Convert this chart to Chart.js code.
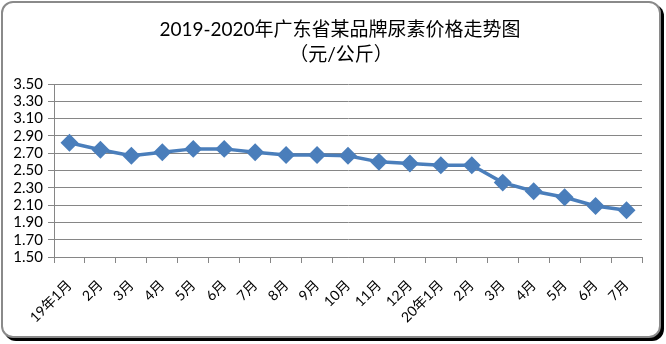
<!DOCTYPE html>
<html>
<head>
<meta charset="utf-8">
<script src="https://cdn.jsdelivr.net/npm/chart.js@4"></script>
<style>
  html, body { margin: 0; padding: 0; background: #fff; }
  body { width: 666px; height: 344px; position: relative; overflow: hidden; }
  .frame {
    position: absolute; left: 1px; top: 1px; width: 656px; height: 333px;
    border: 2px solid #8a8a8a; border-radius: 12px;
    box-shadow: 3px 3px 0 0 #000;
    background: #fff;
  }
  canvas { position: absolute; left: 0; top: 0; }
</style>
</head>
<body>
<div class="frame"></div>
<canvas id="priceChart" width="666" height="344"></canvas>
<script>
// 月份标签与尿素价格（元/公斤）
const months = ['19年1月', '2月', '3月', '4月', '5月', '6月', '7月', '8月', '9月', '10月',
  '11月', '12月', '20年1月', '2月', '3月', '4月', '5月', '6月', '7月'];
const prices = [2.82, 2.74, 2.67, 2.71, 2.75, 2.75, 2.71, 2.68, 2.68, 2.67,
  2.60, 2.58, 2.56, 2.56, 2.36, 2.26, 2.19, 2.09, 2.04];
const titleLines = ['2019-2020年广东省某品牌尿素价格走势图', '（元/公斤）'];
const yMin = 1.5;
const yMax = 3.5;
const yStep = 0.2;

const fontFamily = 'Lato, "Noto Sans CJK SC", sans-serif';
const gray = '#868686';
const blue = '#4a7ebb';

// the title sits a little right of the canvas centre, so draw it by hand
const titleDraw = {
  id: 'titleDraw',
  afterDraw(chart) {
    const ctx = chart.ctx;
    ctx.save();
    ctx.fillStyle = '#000';
    ctx.font = '19px ' + fontFamily;
    ctx.textAlign = 'center';
    ctx.textBaseline = 'middle';
    ctx.fillText(titleLines[0], 340, 30);
    ctx.fillText(titleLines[1], 341, 55);
    ctx.restore();
  }
};

new Chart(document.getElementById('priceChart'), {
  type: 'line',
  data: {
    labels: months,
    datasets: [{
      data: prices,
      borderColor: blue,
      backgroundColor: blue,
      borderWidth: 3.5,
      pointStyle: 'rectRot',
      pointRadius: 6.5,
      pointHoverRadius: 6.5,
      tension: 0
    }]
  },
  plugins: [titleDraw],
  options: {
    responsive: false,
    animation: false,
    layout: { padding: { left: 0, right: 24, top: 84, bottom: 0 } },
    plugins: {
      legend: { display: false },
      tooltip: { enabled: false },
      title: { display: false }
    },
    scales: {
      x: {
        offset: true,
        grid: { display: true, drawOnChartArea: false, drawTicks: true, tickLength: 6, color: gray, offset: true },
        border: { display: true, color: gray, width: 1 },
        ticks: {
          color: '#000',
          font: { family: fontFamily, size: 14 },
          minRotation: 45, maxRotation: 45,
          padding: 14,
          autoSkip: false
        },
        afterFit: (scale) => { scale.height = 87; }
      },
      y: {
        min: yMin,
        max: yMax,
        grid: { color: gray, tickLength: 6 },
        border: { display: true, color: gray, width: 1 },
        ticks: {
          stepSize: yStep,
          autoSkip: false,
          color: '#000',
          font: { family: fontFamily, size: 15 },
          padding: 5,
          callback: (v) => v.toFixed(2)
        },
        afterFit: (scale) => { scale.width = 54; }
      }
    }
  }
});
</script>
</body>
</html>
